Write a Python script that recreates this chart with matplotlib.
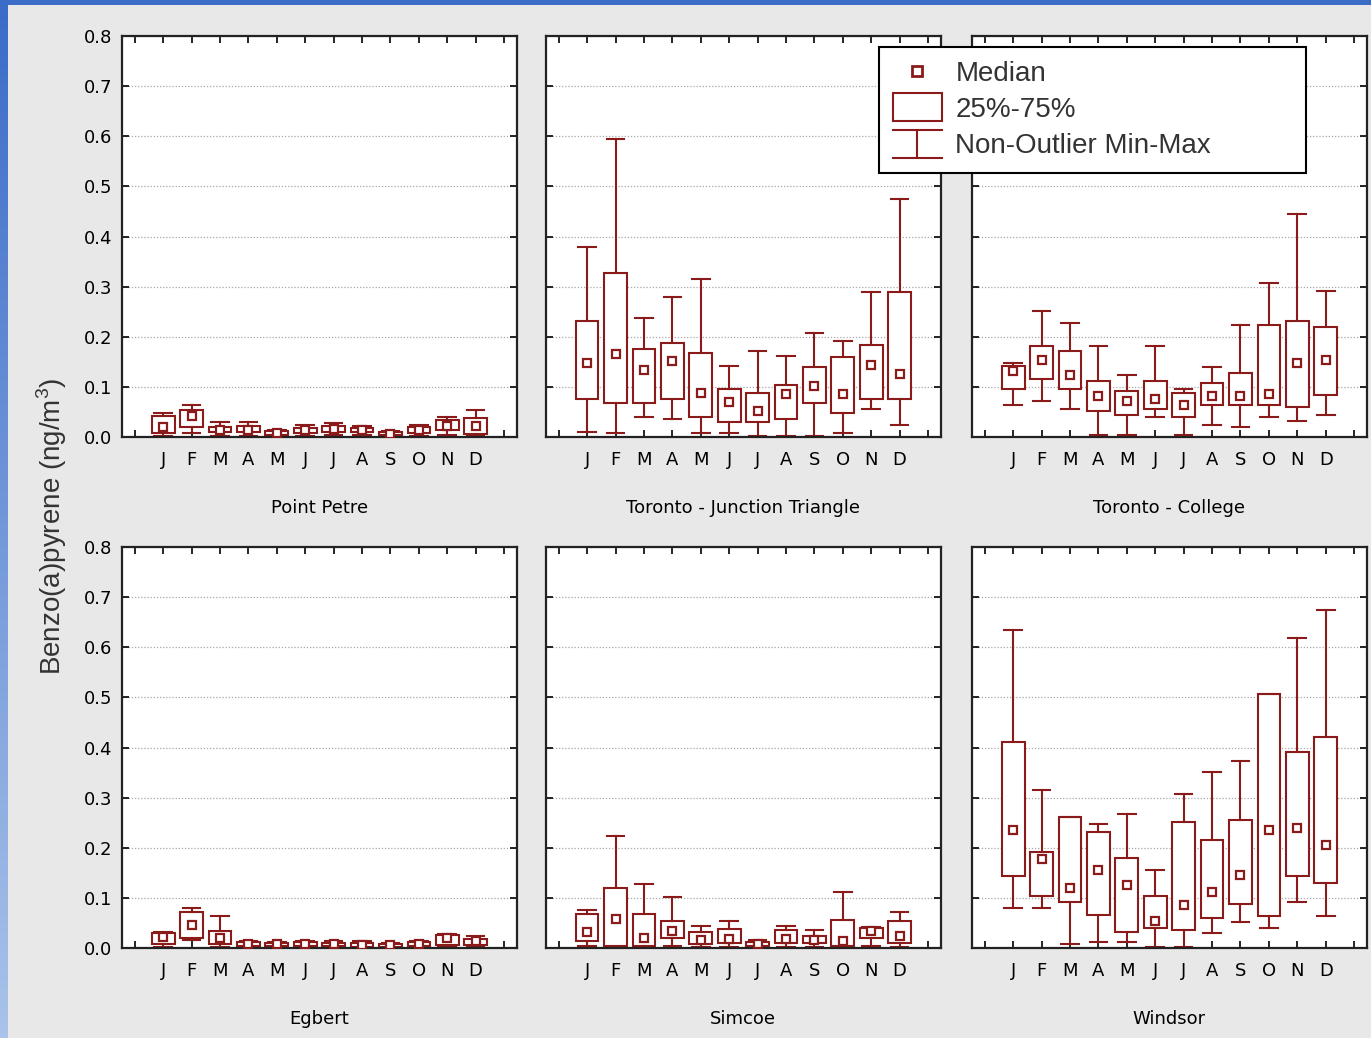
import numpy as np
import matplotlib
matplotlib.use("Agg")
import matplotlib.pyplot as plt
from matplotlib.lines import Line2D
from matplotlib.patches import Rectangle
from matplotlib.legend_handler import HandlerBase

plt.rcParams['mathtext.fontset'] = 'custom'
plt.rcParams['mathtext.rm'] = 'Liberation Sans'

months = ["J", "F", "M", "A", "M", "J", "J", "A", "S", "O", "N", "D"]
stations = ["Point Petre", "Toronto - Junction Triangle", "Toronto - College",
            "Egbert", "Simcoe", "Windsor"]

# per station: whisker min, q1, median, q3, whisker max (ng/m3), Jan..Dec
pp_min = [0.002, 0.007, 0.002, 0.002, 0.001, 0.002, 0.003, 0.003, 0.001, 0.002, 0.004, 0.002]
pp_q1 = [0.007, 0.019, 0.009, 0.009, 0.004, 0.007, 0.009, 0.009, 0.003, 0.007, 0.014, 0.006]
pp_med = [0.019, 0.042, 0.014, 0.014, 0.007, 0.013, 0.015, 0.014, 0.006, 0.014, 0.022, 0.021]
pp_q3 = [0.041, 0.053, 0.019, 0.021, 0.011, 0.017, 0.022, 0.017, 0.009, 0.019, 0.033, 0.037]
pp_max = [0.047, 0.063, 0.029, 0.029, 0.013, 0.024, 0.027, 0.021, 0.011, 0.024, 0.039, 0.054]

jt_min = [0.010, 0.007, 0.039, 0.035, 0.007, 0.007, 0.002, 0.002, 0.002, 0.007, 0.055, 0.023]
jt_q1 = [0.075, 0.067, 0.067, 0.075, 0.040, 0.030, 0.030, 0.035, 0.067, 0.047, 0.075, 0.075]
jt_med = [0.147, 0.165, 0.133, 0.151, 0.088, 0.070, 0.052, 0.085, 0.102, 0.085, 0.143, 0.125]
jt_q3 = [0.231, 0.327, 0.175, 0.187, 0.167, 0.095, 0.087, 0.103, 0.139, 0.159, 0.183, 0.290]
jt_max = [0.379, 0.595, 0.238, 0.279, 0.315, 0.142, 0.171, 0.162, 0.207, 0.191, 0.290, 0.475]

tc_min = [0.064, 0.072, 0.056, 0.004, 0.004, 0.040, 0.004, 0.023, 0.019, 0.040, 0.032, 0.044]
tc_q1 = [0.096, 0.115, 0.096, 0.052, 0.043, 0.055, 0.039, 0.063, 0.063, 0.063, 0.059, 0.084]
tc_med = [0.131, 0.153, 0.123, 0.081, 0.072, 0.076, 0.063, 0.082, 0.082, 0.086, 0.148, 0.153]
tc_q3 = [0.141, 0.181, 0.172, 0.112, 0.092, 0.112, 0.088, 0.108, 0.128, 0.224, 0.232, 0.220]
tc_max = [0.148, 0.252, 0.228, 0.181, 0.124, 0.181, 0.096, 0.140, 0.224, 0.308, 0.445, 0.292]

eg_min = [0.003, 0.016, 0.003, 0.001, 0.001, 0.001, 0.001, 0.001, 0.001, 0.001, 0.003, 0.003]
eg_q1 = [0.008, 0.019, 0.008, 0.004, 0.004, 0.004, 0.004, 0.003, 0.003, 0.004, 0.006, 0.006]
eg_med = [0.021, 0.046, 0.019, 0.008, 0.007, 0.007, 0.007, 0.005, 0.005, 0.007, 0.019, 0.013]
eg_q3 = [0.029, 0.072, 0.033, 0.011, 0.009, 0.011, 0.009, 0.009, 0.007, 0.011, 0.026, 0.017]
eg_max = [0.031, 0.079, 0.064, 0.013, 0.011, 0.013, 0.013, 0.013, 0.009, 0.013, 0.028, 0.024]

si_min = [0.004, 0.003, 0.003, 0.004, 0.003, 0.003, 0.002, 0.003, 0.003, 0.002, 0.004, 0.003]
si_q1 = [0.013, 0.004, 0.004, 0.019, 0.008, 0.009, 0.004, 0.009, 0.009, 0.004, 0.019, 0.009]
si_med = [0.031, 0.057, 0.019, 0.033, 0.015, 0.017, 0.008, 0.017, 0.015, 0.013, 0.033, 0.023]
si_q3 = [0.068, 0.119, 0.068, 0.053, 0.031, 0.037, 0.011, 0.036, 0.024, 0.056, 0.039, 0.053]
si_max = [0.076, 0.223, 0.127, 0.102, 0.043, 0.053, 0.015, 0.043, 0.036, 0.111, 0.041, 0.071]

wi_min = [0.079, 0.079, 0.008, 0.012, 0.012, 0.003, 0.003, 0.029, 0.051, 0.039, 0.091, 0.064]
wi_q1 = [0.144, 0.104, 0.091, 0.065, 0.031, 0.039, 0.035, 0.060, 0.088, 0.064, 0.144, 0.130]
wi_med = [0.236, 0.178, 0.119, 0.156, 0.125, 0.053, 0.085, 0.111, 0.146, 0.236, 0.239, 0.206]
wi_q3 = [0.411, 0.191, 0.261, 0.231, 0.179, 0.103, 0.251, 0.215, 0.255, 0.507, 0.391, 0.420]
wi_max = [0.635, 0.315, 0.262, 0.247, 0.267, 0.155, 0.308, 0.351, 0.374, 0.507, 0.618, 0.674]

series = [
    (pp_min, pp_q1, pp_med, pp_q3, pp_max),
    (jt_min, jt_q1, jt_med, jt_q3, jt_max),
    (tc_min, tc_q1, tc_med, tc_q3, tc_max),
    (eg_min, eg_q1, eg_med, eg_q3, eg_max),
    (si_min, si_q1, si_med, si_q3, si_max),
    (wi_min, wi_q1, wi_med, wi_q3, wi_max),
]

RED = "#8b1a1a"
LW = 1.5

fig = plt.figure(figsize=(13.71, 10.38), dpi=100)
fig.patch.set_facecolor("#e8e8e8")

# blue frame strips of the slide
grad = np.linspace(0, 1, 256).reshape(-1, 1)
cmap_blue = matplotlib.colors.LinearSegmentedColormap.from_list("bl", ["#3a6cc8", "#a9c3ea"])
sax = fig.add_axes([0, 0, 7 / 1371, 1])
sax.imshow(grad, aspect="auto", cmap=cmap_blue)
sax.axis("off")
tax = fig.add_axes([0, 1 - 5 / 1038, 1, 5 / 1038])
tax.set_facecolor("#3a6cc8")
tax.set_xticks([])
tax.set_yticks([])
for s in tax.spines.values():
    s.set_visible(False)

lefts = [0.0890, 0.3982, 0.7090]
bottoms = [0.5790, 0.0867]
w, h = 0.2880, 0.3863

positions = np.arange(1, 13)
for i, (name, (lo, q1, med, q3, hi)) in enumerate(zip(stations, series)):
    ax = fig.add_axes([lefts[i % 3], bottoms[i // 3], w, h])
    stats = [dict(med=m, q1=a, q3=b, whislo=l, whishi=u, fliers=[])
             for l, a, m, b, u in zip(lo, q1, med, q3, hi)]
    ax.bxp(stats, positions=positions, widths=0.8, capwidths=0.62,
           showfliers=False, patch_artist=True,
           boxprops=dict(facecolor="white", edgecolor=RED, linewidth=LW),
           whiskerprops=dict(color=RED, linewidth=LW),
           capprops=dict(color=RED, linewidth=LW),
           medianprops=dict(linestyle="none"))
    ax.plot(positions, med, linestyle="none", marker="s", ms=6,
            mfc="white", mec=RED, mew=1.6, zorder=5)
    ax.set_xlim(-0.45, 13.45)
    ax.set_ylim(0, 0.8)
    ax.set_xticks(np.arange(0, 14))
    ax.set_xticklabels([""] + months + [""], fontsize=13, family="DejaVu Sans")
    ax.set_yticks(np.arange(0, 0.81, 0.1))
    if i % 3 == 0:
        ax.set_yticklabels(["%.1f" % v for v in np.arange(0, 0.81, 0.1)],
                           fontsize=13, family="DejaVu Sans")
    else:
        ax.set_yticklabels([])
    ax.tick_params(axis="x", direction="in", top=True, length=5, width=1.2, pad=10)
    ax.tick_params(axis="y", direction="in", right=True, length=5, width=1.2, pad=7)
    ax.yaxis.grid(True, linestyle=(0, (1, 1.5)), color="#a8a8a8", linewidth=0.9)
    ax.set_axisbelow(True)
    for s in ax.spines.values():
        s.set_linewidth(1.6)
        s.set_color("#222222")
    ax.set_xlabel(name, fontsize=13, family="DejaVu Sans", labelpad=22)

fig.text(0.038, 0.493, r"Benzo(a)pyrene (ng/m$^{\mathregular{3}}$)", rotation=90,
         ha="center", va="center", fontsize=20, family="Liberation Sans", color="#333333")


class GlyphHandler(HandlerBase):
    def __init__(self, kind):
        super().__init__()
        self.kind = kind

    def create_artists(self, legend, orig_handle, xdescent, ydescent, width,
                       height, fontsize, trans):
        x0, y0 = -xdescent, -ydescent
        yc = y0 + height / 2
        hh = height * 0.72
        if self.kind == "box":
            return [Rectangle((x0, yc - hh), width, 2 * hh, facecolor="white",
                              edgecolor=RED, linewidth=LW, transform=trans)]
        if self.kind == "whisker":
            xc = x0 + width / 2
            return [Line2D([x0, x0 + width], [yc + hh, yc + hh], color=RED, lw=LW, transform=trans),
                    Line2D([xc, xc], [yc - hh, yc + hh], color=RED, lw=LW, transform=trans),
                    Line2D([x0, x0 + width], [yc - hh, yc - hh], color=RED, lw=LW, transform=trans)]
        return [Line2D([x0 + width / 2], [yc], linestyle="none", marker="s", ms=6.5,
                       mfc="white", mec=RED, mew=2, transform=trans)]


h_med = Line2D([], [])
h_box = Rectangle((0, 0), 1, 1)
h_whi = Line2D([], [], color=RED)
leg = fig.legend([h_med, h_box, h_whi], ["Median", "25%-75%", "Non-Outlier Min-Max"],
                 handler_map={h_med: GlyphHandler("median"), h_box: GlyphHandler("box"),
                              h_whi: GlyphHandler("whisker")},
                 loc="upper left",
                 bbox_to_anchor=(879 / 1371, 1 - 169 / 1038, 427 / 1371, 122 / 1038),
                 mode="expand", borderaxespad=0,
                 prop={"family": "Liberation Sans", "size": 20},
                 handlelength=1.75, handletextpad=0.5, labelspacing=0.37,
                 borderpad=0.5, fancybox=False, framealpha=1, edgecolor="black")
leg.get_frame().set_linewidth(1.5)
for t in leg.get_texts():
    t.set_color("#333333")

fig.savefig("out.png", dpi=100, facecolor=fig.get_facecolor())
